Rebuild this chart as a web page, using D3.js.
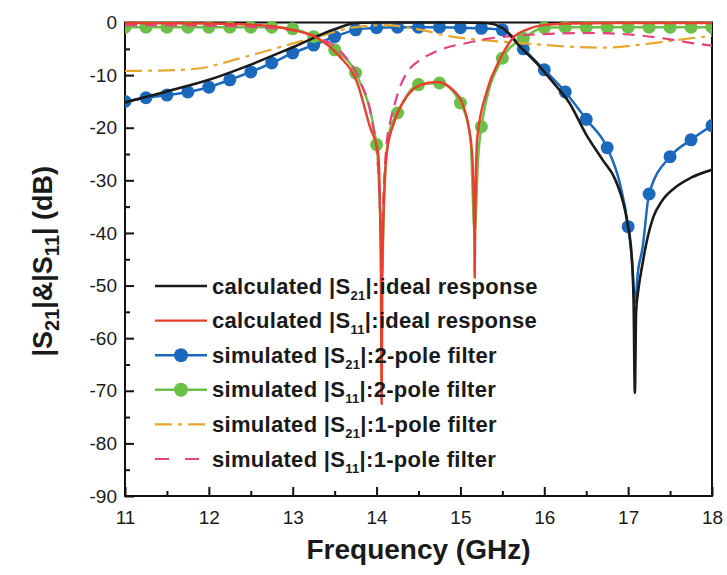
<!DOCTYPE html>
<html>
<head>
<meta charset="utf-8">
<script src="https://cdn.jsdelivr.net/npm/d3@7"></script>
<style>
  body { margin: 0; background: #fff; }
  svg text { font-family: "Liberation Sans", Arial, sans-serif; fill: #1a1a1a; }
</style>
</head>
<body>
<svg id="chart"></svg>
<script>
// ---- data (frequency in GHz, magnitude in dB) ----
const freqTicks = [11, 12, 13, 14, 15, 16, 17, 18];
const dbTicks = [0, -10, -20, -30, -40, -50, -60, -70, -80, -90];

// calculated |S21| (ideal response)
const s21CalcFreq = [11.0, 11.5, 12.0, 12.5, 13.0, 13.5, 13.75, 14.0, 14.5, 15.0, 15.3, 15.5, 15.7, 15.9, 16.1, 16.3, 16.5, 16.7, 16.85, 16.99, 17.04, 17.065, 17.08, 17.095, 17.12, 17.17, 17.23, 17.3, 17.4, 17.55, 17.75, 18.0];
const s21CalcDb = [-15.2, -13.1, -10.9, -8.0, -4.7, -1.3, -0.1, 0, 0, 0, -0.1, -1.0, -4.4, -7.6, -11.3, -15.3, -21.3, -26.2, -30.0, -38.0, -44.0, -53.0, -70.4, -55.0, -51.0, -46.0, -41.0, -37.0, -34.0, -31.5, -29.5, -28.0];

// calculated |S11| (ideal response)
const s11CalcFreq = [11.0, 12.0, 12.5, 12.8, 13.0, 13.3, 13.55, 13.77, 13.92, 14.02, 14.05, 14.06, 14.07, 14.12, 14.22, 14.36, 14.52, 14.72, 14.91, 15.05, 15.14, 15.165, 15.17, 15.175, 15.2, 15.32, 15.47, 15.63, 15.8, 15.95, 16.3, 17.0, 18.0];
const s11CalcDb = [-0.1, -0.2, -0.4, -0.8, -1.4, -3.0, -6.3, -11.5, -19.8, -25.0, -45.0, -72.5, -45.0, -25.0, -18.5, -14.1, -11.9, -11.3, -12.8, -16.6, -25.0, -40.0, -48.5, -40.0, -22.0, -12.8, -7.0, -2.9, -1.3, -0.6, -0.2, -0.1, -0.1];

// simulated |S21| (2-pole filter); markers sit on the 0.25 GHz grid
const s21TwoFreq = [11.0, 11.25, 11.5, 11.75, 12.0, 12.25, 12.5, 12.75, 13.0, 13.25, 13.5, 13.75, 14.0, 14.25, 14.5, 14.75, 15.0, 15.25, 15.5, 15.75, 16.0, 16.25, 16.5, 16.75, 16.9, 17.0, 17.05, 17.08, 17.12, 17.17, 17.25, 17.5, 17.75, 18.0];
const s21TwoDb = [-15.0, -14.3, -13.8, -13.2, -12.3, -10.9, -9.4, -7.7, -5.8, -4.3, -2.7, -1.4, -1.0, -0.9, -0.9, -0.9, -1.0, -1.1, -1.4, -5.0, -9.0, -13.2, -18.4, -23.8, -30.5, -38.8, -46.0, -53.2, -47.0, -43.0, -32.6, -25.5, -22.3, -19.6];

// simulated |S11| (2-pole filter)
const s11TwoFreq = [11.0, 11.25, 11.5, 11.75, 12.0, 12.25, 12.5, 12.75, 13.0, 13.25, 13.5, 13.75, 14.0, 14.04, 14.065, 14.09, 14.15, 14.25, 14.5, 14.75, 15.0, 15.12, 15.17, 15.21, 15.25, 15.5, 15.75, 16.0, 16.25, 16.5, 16.75, 17.0, 17.25, 17.5, 17.75, 18.0];
const s11TwoDb = [-0.9, -0.9, -0.9, -0.9, -0.9, -0.9, -0.9, -0.9, -1.2, -2.7, -5.2, -9.6, -23.2, -35.0, -48.0, -33.0, -21.0, -17.2, -11.8, -11.5, -15.3, -22.0, -40.0, -26.0, -19.8, -6.8, -3.0, -1.0, -0.9, -0.9, -0.9, -0.9, -0.9, -0.9, -0.9, -0.9];

// simulated |S21| (1-pole filter)
const s21OneFreq = [11.0, 11.5, 11.9, 12.3, 12.6, 12.95, 13.3, 13.7, 14.1, 14.5, 14.9, 15.3, 15.8, 16.3, 16.7, 17.2, 17.6, 18.0];
const s21OneDb = [-9.2, -9.1, -8.7, -7.1, -5.8, -4.2, -2.7, -1.0, -0.5, -1.3, -2.7, -3.4, -4.0, -4.6, -4.8, -4.1, -3.3, -2.5];

// simulated |S11| (1-pole filter)
const s11OneFreq = [11.0, 12.0, 12.6, 13.0, 13.3, 13.6, 13.8, 13.95, 14.02, 14.06, 14.09, 14.12, 14.16, 14.22, 14.28, 14.36, 14.52, 14.67, 14.87, 15.08, 15.32, 15.6, 16.0, 16.6, 17.1, 17.5, 17.8, 18.0];
const s11OneDb = [-0.5, -0.6, -0.9, -1.5, -2.8, -6.0, -11.0, -19.0, -28.0, -40.0, -30.0, -22.9, -19.1, -15.3, -12.2, -9.6, -7.1, -5.8, -4.6, -3.9, -3.1, -2.6, -2.2, -2.0, -2.4, -3.2, -4.0, -4.4];

const zip = (fs, ds) => fs.map((f, i) => ({f: f, db: ds[i]}));

class ResponseChart {

  constructor(_config) {
    this.config = {
      parentElement: _config.parentElement,
      containerWidth: 727,
      containerHeight: 575,
      margin: {top: 22.5, right: 15, bottom: 79, left: 125},
      legend: {x: 155, y: 286, step: 34.6, lineLength: 52}
    }
    this.series = _config.series;
    this.initVis();
  }

  initVis() {
    let vis = this;

    vis.svg = d3.select(vis.config.parentElement)
        .attr('width', vis.config.containerWidth)
        .attr('height', vis.config.containerHeight);

    vis.width = vis.config.containerWidth - vis.config.margin.left - vis.config.margin.right;
    vis.height = vis.config.containerHeight - vis.config.margin.top - vis.config.margin.bottom;

    vis.chartArea = vis.svg.append('g')
        .attr('transform', `translate(${vis.config.margin.left},${vis.config.margin.top})`);

    vis.chartArea.append('defs')
        .append('clipPath').attr('id', 'plot-clip')
        .append('rect')
        .attr('x', 0).attr('y', -2)
        .attr('width', vis.width)
        .attr('height', vis.height + 2);

    vis.xScale = d3.scaleLinear().domain([11, 18]).range([0, vis.width]);
    vis.yScale = d3.scaleLinear().domain([-90, 0]).range([vis.height, 0]);

    vis.line = d3.line()
        .x(d => vis.xScale(d.f))
        .y(d => vis.yScale(d.db))
        .curve(d3.curveMonotoneX);

    vis.renderAxes();
    vis.renderVis();
    vis.renderLegend();
  }

  renderAxes() {
    let vis = this;

    // minor ticks first, majors on top
    let minorX = d3.range(11.5, 18, 1);
    let minorY = d3.range(-5, -90, -10);

    vis.chartArea.append('g')
        .attr('transform', `translate(0,${vis.height})`)
        .call(d3.axisBottom(vis.xScale).tickValues(minorX).tickSize(-5).tickSizeOuter(0).tickFormat(''))
        .call(g => g.select('.domain').remove());
    vis.chartArea.append('g')
        .call(d3.axisLeft(vis.yScale).tickValues(minorY).tickSize(-5).tickSizeOuter(0).tickFormat(''))
        .call(g => g.select('.domain').remove());

    // plain hyphen for negatives, like the original
    vis.xAxisG = vis.chartArea.append('g')
        .attr('transform', `translate(0,${vis.height})`)
        .call(d3.axisBottom(vis.xScale).tickValues(freqTicks).tickSize(-9).tickSizeOuter(0).tickPadding(15)
            .tickFormat(d => String(d)));
    vis.yAxisG = vis.chartArea.append('g')
        .call(d3.axisLeft(vis.yScale).tickValues(dbTicks).tickSize(-9).tickSizeOuter(0).tickPadding(8)
            .tickFormat(d => String(d)));

    vis.chartArea.selectAll('.tick line')
        .attr('stroke', '#111')
        .attr('stroke-width', 2);
    vis.chartArea.selectAll('.tick text')
        .attr('font-size', 19)
        .attr('fill', '#222');

    // frame round the plot
    vis.chartArea.append('rect')
        .attr('width', vis.width)
        .attr('height', vis.height)
        .attr('fill', 'none')
        .attr('stroke', '#111')
        .attr('stroke-width', 2);

    // axis titles
    let yTitle = vis.svg.append('text')
        .attr('transform', `translate(52,${vis.config.margin.top + vis.height / 2 + 2}) rotate(-90)`)
        .attr('text-anchor', 'middle')
        .attr('font-size', 27)
        .attr('font-weight', 'bold');
    yTitle.append('tspan').text('|S');
    yTitle.append('tspan').attr('font-size', 20).attr('dy', 7).text('21');
    yTitle.append('tspan').attr('dy', -7).text('|&|S');
    yTitle.append('tspan').attr('font-size', 20).attr('dy', 7).text('11');
    yTitle.append('tspan').attr('dy', -7).text('| (dB)');

    vis.svg.append('text')
        .attr('x', vis.config.margin.left + vis.width / 2)
        .attr('y', 559)
        .attr('text-anchor', 'middle')
        .attr('font-size', 28)
        .attr('font-weight', 'bold')
        .text('Frequency (GHz)');
  }

  renderVis() {
    let vis = this;

    vis.plot = vis.chartArea.append('g')
        .attr('clip-path', 'url(#plot-clip)');

    vis.series.forEach(s => {
      vis.plot.append('path')
          .datum(s.data)
          .attr('fill', 'none')
          .attr('stroke', s.color)
          .attr('stroke-width', s.width)
          .attr('stroke-dasharray', s.dash)
          .attr('d', vis.line);

      if (s.markers) {
        vis.plot.selectAll(null)
            .data(s.data.filter(d => Math.abs(d.f * 4 - Math.round(d.f * 4)) < 1e-6))
            .join('circle')
            .attr('fill', s.color)
            .attr('r', 6.5)
            .attr('cx', d => vis.xScale(d.f))
            .attr('cy', d => vis.yScale(d.db));
      }
    });
  }

  renderLegend() {
    let vis = this;
    let cfg = vis.config.legend;

    let items = vis.svg.append('g')
        .selectAll('.legend-item')
        .data(vis.series.map(s => ({s: s, order: s.legendOrder})))
        .join('g')
        .attr('class', 'legend-item')
        .attr('transform', d => `translate(${cfg.x},${cfg.y + d.order * cfg.step})`);

    items.append('line')
        .attr('x1', 0).attr('x2', cfg.lineLength)
        .attr('stroke', d => d.s.color)
        .attr('stroke-width', d => d.s.width)
        .attr('stroke-dasharray', d => d.s.legendDash || d.s.dash);

    items.filter(d => d.s.markers)
        .append('circle')
        .attr('cx', cfg.lineLength / 2)
        .attr('r', 7)
        .attr('fill', d => d.s.color);

    let label = items.append('text')
        .attr('x', cfg.lineLength + 5)
        .attr('y', 7.5)
        .attr('font-size', 22)
        .attr('letter-spacing', 0.3)
        .attr('font-weight', 'bold');
    label.append('tspan').text(d => d.s.label[0]);
    label.append('tspan').attr('font-size', 13).attr('dy', 6).text(d => d.s.label[1]);
    label.append('tspan').attr('dy', -6).text(d => d.s.label[2]);
  }
}

const series = [
  {label: ['simulated |S', '21', '|:2-pole filter'], data: zip(s21TwoFreq, s21TwoDb), color: '#1b69bd', width: 2.5, markers: true, legendOrder: 2},
  {label: ['simulated |S', '11', '|:2-pole filter'], data: zip(s11TwoFreq, s11TwoDb), color: '#6cbf47', width: 2.5, markers: true, legendOrder: 3},
  {label: ['simulated |S', '21', '|:1-pole filter'], data: zip(s21OneFreq, s21OneDb), color: '#e6a72e', width: 2.2, dash: '17,6,4,6', legendOrder: 4},
  {label: ['simulated |S', '11', '|:1-pole filter'], data: zip(s11OneFreq, s11OneDb), color: '#e8417f', width: 2.2, dash: '12,8', legendDash: '14,16', legendOrder: 5},
  {label: ['calculated |S', '21', '|:ideal response'], data: zip(s21CalcFreq, s21CalcDb), color: '#1a1a1a', width: 2.6, legendOrder: 0},
  {label: ['calculated |S', '11', '|:ideal response'], data: zip(s11CalcFreq, s11CalcDb), color: '#e8402c', width: 2.4, legendOrder: 1}
];

new ResponseChart({parentElement: '#chart', series: series});
</script>
</body>
</html>
